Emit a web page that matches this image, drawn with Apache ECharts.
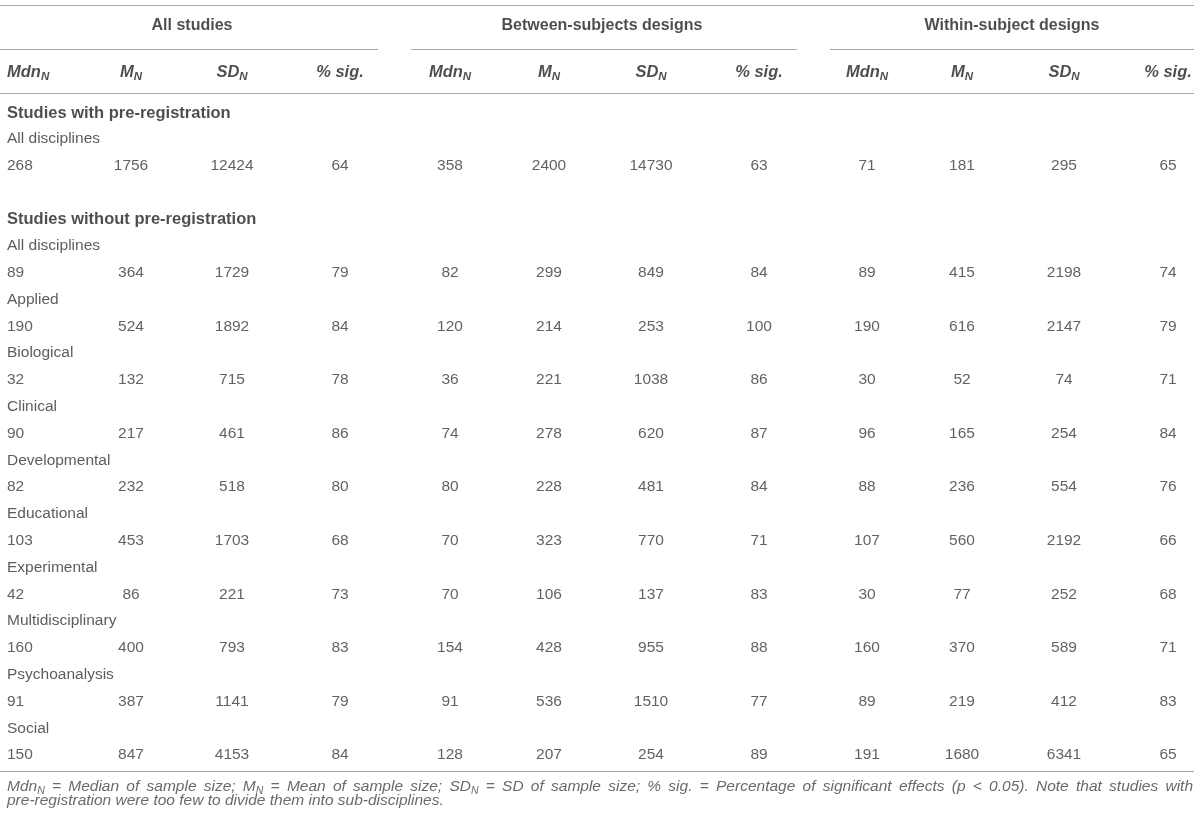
<!DOCTYPE html>
<html>
<head>
<meta charset="utf-8">
<title>Sample size by design</title>
<script src="https://cdn.jsdelivr.net/npm/echarts@6/dist/echarts.min.js"></script>
<style>
  html, body { margin: 0; padding: 0; background: #fff; }
  #chart { width: 1200px; height: 824px; }
</style>
</head>
<body>
<div id="chart"></div>
<script>
// table content
const groupTitles = ['All studies', 'Between-subjects designs', 'Within-subject designs'];
const statNames = [['Mdn', 'N'], ['M', 'N'], ['SD', 'N'], ['% sig.', '']];
const sectionTitles = ['Studies with pre-registration', 'Studies without pre-registration'];

const preRegLabels = ['All disciplines'];
const preRegAll = [268, 1756, 12424, 64, 358, 2400, 14730, 63, 71, 181, 295, 65];

const noPreRegLabels = ['All disciplines', 'Applied', 'Biological', 'Clinical', 'Developmental',
  'Educational', 'Experimental', 'Multidisciplinary', 'Psychoanalysis', 'Social'];
const noPreAll = [89, 364, 1729, 79, 82, 299, 849, 84, 89, 415, 2198, 74];
const applied = [190, 524, 1892, 84, 120, 214, 253, 100, 190, 616, 2147, 79];
const biological = [32, 132, 715, 78, 36, 221, 1038, 86, 30, 52, 74, 71];
const clinical = [90, 217, 461, 86, 74, 278, 620, 87, 96, 165, 254, 84];
const developmental = [82, 232, 518, 80, 80, 228, 481, 84, 88, 236, 554, 76];
const educational = [103, 453, 1703, 68, 70, 323, 770, 71, 107, 560, 2192, 66];
const experimental = [42, 86, 221, 73, 70, 106, 137, 83, 30, 77, 252, 68];
const multidisciplinary = [160, 400, 793, 83, 154, 428, 955, 88, 160, 370, 589, 71];
const psychoanalysis = [91, 387, 1141, 79, 91, 536, 1510, 77, 89, 219, 412, 83];
const social = [150, 847, 4153, 84, 128, 207, 254, 89, 191, 1680, 6341, 65];

const preRegRows = [preRegAll];
const noPreRegRows = [noPreAll, applied, biological, clinical, developmental, educational,
  experimental, multidisciplinary, psychoanalysis, social];

// footnote, "X_N" marks a subscript N
const footLine1 = 'Mdn_N = Median of sample size; M_N = Mean of sample size; SD_N = SD of sample size; % sig. = Percentage of significant effects (p < 0.05). Note that studies with';
const footLine2 = 'pre-registration were too few to divide them into sub-disciplines.';

// layout (pixels in a 1200 x 824 data space)
const colX = [7, 131, 232, 340, 450, 549, 651, 759, 867, 962, 1064, 1168];
const groupX = [192, 602, 1012];
const groupRules = [[0, 378], [411, 797], [830, 1194]];
const yGroup = 26, yHead = 72, ySec1 = 113, yPre0 = 139;
const ySec2 = 219, yNo0 = 246, rowStep = 26.8;
const yBottomRule = 771;
const yFoot = [787, 801];
const footLeft = 7, footRight = 1193;

const FONT = '"Liberation Sans", Arial, Helvetica, sans-serif';
const TXT = '#231f20';
const NUM = '#3a3a3a';
const FOOT = '#444';
const RULE = '#a8a8a8';
const FS = 15.5, FS_FOOT = 15.5, FS_FOOT_SUB = 10.5;

function pt(x, y, label) {
  return { value: [x, y], label: label };
}

// group titles + column headers
const headData = [];
groupTitles.forEach((t, g) => {
  headData.push(pt(groupX[g], yGroup, {
    formatter: t, align: 'center', fontWeight: 'bold', fontSize: 16, color: TXT
  }));
  statNames.forEach((s, k) => {
    const c = g * 4 + k;
    headData.push(pt(colX[c], yHead, {
      formatter: s[1] ? '{b|' + s[0] + '}{s|' + s[1] + '}' : '{b|' + s[0] + '}',
      align: c === 0 ? 'left' : 'center'
    }));
  });
});

// section titles and row labels
const labelData = [];
labelData.push(pt(colX[0], ySec1, { formatter: sectionTitles[0], fontWeight: 'bold', fontSize: 16.5, color: TXT }));
labelData.push(pt(colX[0], ySec2, { formatter: sectionTitles[1], fontWeight: 'bold', fontSize: 16.5, color: TXT }));
preRegLabels.forEach((l, i) => labelData.push(pt(colX[0], yPre0 + i * 2 * rowStep, { formatter: l })));
noPreRegLabels.forEach((l, i) => labelData.push(pt(colX[0], yNo0 + i * 2 * rowStep, { formatter: l })));

// numeric cells
const cellData = [];
function addRows(rows, y0) {
  rows.forEach((row, i) => {
    const y = y0 + (i * 2 + 1) * rowStep;
    row.forEach((v, c) => {
      cellData.push(pt(colX[c], y, { formatter: String(v), align: c === 0 ? 'left' : 'center' }));
    });
  });
}
addRows(preRegRows, yPre0);
addRows(noPreRegRows, yNo0);

// footnote: first line justified across the table width
const ctx = document.createElement('canvas').getContext('2d');
function measure(txt, size) {
  ctx.font = 'italic ' + size + 'px ' + FONT;
  return ctx.measureText(txt).width;
}
function wordRich(w) {
  const m = w.match(/^(.+)_N$/);
  if (m) {
    return { text: '{i|' + m[1] + '}{s|N}', width: measure(m[1], FS_FOOT) + measure('N', FS_FOOT_SUB) };
  }
  return { text: '{i|' + w.replace(/[{}|]/g, '') + '}', width: measure(w, FS_FOOT) };
}
const footData = [];
const words1 = footLine1.split(' ').map(wordRich);
const sumW = words1.reduce((a, w) => a + w.width, 0);
const gap = (footRight - footLeft - sumW) / (words1.length - 1);
let fx = footLeft;
words1.forEach(w => {
  footData.push(pt(fx, yFoot[0], { formatter: w.text }));
  fx += w.width + gap;
});
footData.push(pt(footLeft, yFoot[1], { formatter: '{i|' + footLine2 + '}' }));

const chart = echarts.init(document.getElementById('chart'), null, { renderer: 'canvas' });

function textSeries(data, base) {
  return {
    type: 'scatter',
    silent: true,
    symbolSize: 0,
    data: data,
    label: Object.assign({
      show: true,
      position: [0, 0],
      align: 'left',
      verticalAlign: 'middle',
      fontFamily: FONT,
      fontSize: FS,
      color: TXT
    }, base)
  };
}

const ruleLine = (x1, x2, y) => ({
  type: 'line',
  shape: { x1: x1, y1: y + 0.5, x2: x2, y2: y + 0.5 },
  style: { stroke: RULE, lineWidth: 1.2 },
  silent: true
});

const option = {
  animation: false,
  grid: { left: 0, right: 0, top: 0, bottom: 0 },
  xAxis: { type: 'value', min: 0, max: 1200, show: false },
  yAxis: { type: 'value', min: 0, max: 824, inverse: true, show: false },
  graphic: [
    ruleLine(0, 1194, 5),
    ...groupRules.map(r => ruleLine(r[0], r[1], 49)),
    ruleLine(0, 1194, 93),
    ruleLine(0, 1194, yBottomRule)
  ],
  series: [
    textSeries(headData, {
      rich: {
        b: { fontFamily: FONT, fontSize: 16.5, fontWeight: 'bold', fontStyle: 'italic', color: TXT },
        s: { fontFamily: FONT, fontSize: 11.5, fontWeight: 'bold', fontStyle: 'italic', color: TXT, padding: [9, 0, 0, 0] }
      }
    }),
    textSeries(labelData, { color: '#333' }),
    textSeries(cellData, { color: NUM }),
    textSeries(footData, {
      rich: {
        i: { fontFamily: FONT, fontSize: FS_FOOT, fontStyle: 'italic', color: FOOT },
        s: { fontFamily: FONT, fontSize: FS_FOOT_SUB, fontStyle: 'italic', color: FOOT, padding: [8, 0, 0, 0] }
      },
      fontStyle: 'italic',
      fontSize: FS_FOOT,
      color: FOOT
    })
  ]
};

chart.setOption(option);
</script>
</body>
</html>
